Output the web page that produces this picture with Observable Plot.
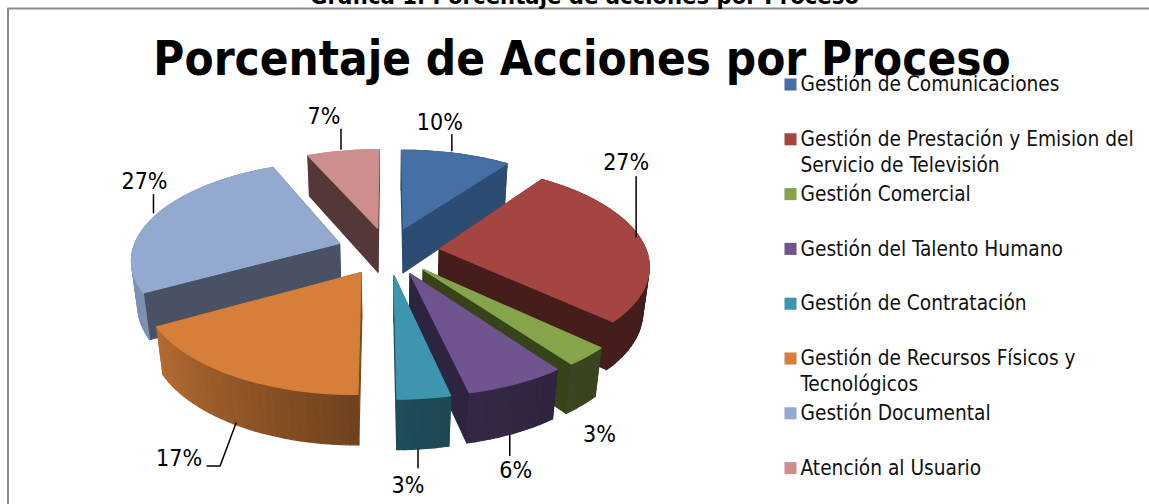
<!DOCTYPE html>
<html>
<head>
<meta charset="utf-8">
<script src="https://cdn.jsdelivr.net/npm/d3@7"></script>
<script src="https://cdn.jsdelivr.net/npm/@observablehq/plot@0.6"></script>
<style>
html,body{margin:0;padding:0;background:#fff;overflow:hidden}
svg{display:block}
</style>
</head>
<body>
<div id="chart"></div>
<script>
const categories = ["Gestión de Comunicaciones","Gestión de Prestación y Emision del Servicio de Televisión","Gestión Comercial","Gestión del Talento Humano","Gestión de Contratación","Gestión de Recursos Físicos y Tecnológicos","Gestión Documental","Atención al Usuario"];
const legendLines = [["Gestión de Comunicaciones"],["Gestión de Prestación y Emision del","Servicio de Televisión"],["Gestión Comercial"],["Gestión del Talento Humano"],["Gestión de Contratación"],["Gestión de Recursos Físicos y","Tecnológicos"],["Gestión Documental"],["Atención al Usuario"]];
const values = [10, 27, 3, 6.49, 3.4, 17.01, 26.5, 6.6];
const topColors = ["#4470A6","#A54542","#86A44A","#6F5490","#3D96AE","#D67F3A","#93A9CF","#CE8E8E"];
const wallColors = ["#2D4C73","#451D1A","#374419","#2D2440","#1F4C5C","#7A4A20","#495265","#543839"];
const drawOrder = [7,0,6,1,2,3,4,5];
const title = "Porcentaje de Acciones por Proceso";
const caption = "Gráfica 1. Porcentaje de acciones por Proceso";
// leader polylines and label offsets, relative to the slice's rim anchor
const leaderOffsets = [[[-4,-3],[-4,-19]],[[-5,-3],[-5,-63]],[],[[-3,1],[-3,22]],[[-5,1],[-5,19]],[[-1,-2],[-17,41],[-30,41]],[[-3,-2],[-3,-20]],[[-2,-2],[-2,-22]]];
const labelOffsets = [[-16,-31],[-15,-77],[18,29],[3,37],[-15,37],[-58,34],[-12,-33],[-19,-35]];

// pie projection (ground plane to screen, with perspective)
const CX=387.5, CY=250.5, AX=207, BY=96.5, DEPTH=46, K=0.15, M=0.025, EXPLODE=0.25;
const project = (X,Y,low) => { const w = 1+K*Y+(low?M:0);
  return {x: CX+AX*X/w, y: CY-(BY*Y-(low?DEPTH:0))/w}; };
const total = d3.sum(values);
const rad = d => d*Math.PI/180;
const cum = d3.cumsum(values);
const slices = values.map((v,i)=>{
  const a0 = (i?cum[i-1]:0)/total*360, a1 = cum[i]/total*360, mid=(a0+a1)/2;
  const ox = EXPLODE*Math.sin(rad(mid)), oy = EXPLODE*Math.cos(rad(mid));
  const rim = a => [ox+Math.sin(rad(a)), oy+Math.cos(rad(a))];
  return {i,a0,a1,mid,ox,oy,rim};
});
const shade = d3.scaleLinear([0,140,176,240,300,360],[.42,.42,.5,.85,.88,.88]);
const darken = (c,f)=>{const r=d3.rgb(c);return d3.rgb(r.r*f,r.g*f,r.b*f).formatHex();};

const points=[]; let faceId=0;
const addFace=(ground,low,color)=>{ const id=faceId++;
  ground.forEach((g,j)=>{const p=project(g[0],g[1],low?low[j]:false); points.push({x:p.x,y:p.y,face:id,color});});
};
for (const i of drawOrder){
  const s=slices[i], walls=[];
  const p0=s.rim(s.a0), p1=s.rim(s.a1), ap=[s.ox,s.oy];
  walls.push({d:(p0[1]+ap[1])/2,g:[ap,p0,p0,ap],c:wallColors[i]});
  walls.push({d:(p1[1]+ap[1])/2,g:[ap,p1,p1,ap],c:wallColors[i]});
  const n=Math.max(2,Math.ceil((s.a1-s.a0)/2));
  d3.range(n).forEach(j=>{
    const a=s.a0+(s.a1-s.a0)*j/n, b=s.a0+(s.a1-s.a0)*(j+1)/n;
    const q0=s.rim(a), q1=s.rim(b);
    walls.push({d:(q0[1]+q1[1])/2,g:[q0,q1,q1,q0],c:darken(topColors[i],shade((a+b)/2))});
  });
  walls.sort((u,v)=>v.d-u.d).forEach(w=>addFace(w.g,[false,false,true,true],w.c));
  const top=[ap,...d3.range(n+1).map(j=>s.rim(s.a0+(s.a1-s.a0)*j/n))];
  addFace(top,null,topColors[i]);
}

// anchors on the rim, lower rim for the front slices
const anchors = slices.map(s=>{const r=s.rim(s.mid);return project(r[0],r[1],r[1]<-0.5);});
const leaders = leaderOffsets.flatMap((l,i)=>l.map(o=>({x:anchors[i].x+o[0],y:anchors[i].y+o[1],z:i})));
const labels = values.map((v,i)=>({x:anchors[i].x+labelOffsets[i][0],y:anchors[i].y+labelOffsets[i][1],t:Math.round(v)+"%"}));

const LEGEND_X=784, LEGEND_Y=84, LEGEND_STEP=54.8, LINE=26;
const swatches = categories.map((c,i)=>({x:LEGEND_X+6,y:LEGEND_Y+i*LEGEND_STEP,color:topColors[i]}));
const legendText = legendLines.flatMap((ls,i)=>ls.map((t,j)=>({t,x:LEGEND_X+16,y:LEGEND_Y+(i)*LEGEND_STEP+j*LINE})));

const FONT="'DejaVu Sans Condensed','DejaVu Sans'";
const chart = Plot.plot({
  width:1149,height:504,margin:0,
  x:{type:"identity",axis:null},y:{type:"identity",axis:null},
  color:{type:"identity"},
  style:{background:"#fff"},
  marks:[
    Plot.line([{x:1149,y:8},{x:7.5,y:8},{x:7.5,y:504}],{x:"x",y:"y",stroke:"#8c8c8c",strokeWidth:2}),
    Plot.text([caption],{text:d=>d,x:584,y:-4.4,fontFamily:FONT,fontWeight:"bold",fontSize:23.6,fill:"#000"}),
    Plot.line(points,{x:"x",y:"y",z:"face",fill:"color",stroke:"color",strokeWidth:1.2,curve:"linear-closed"}),
    Plot.line(leaders,{x:"x",y:"y",z:"z",stroke:"#000",strokeWidth:1.5}),
    Plot.text(labels,{x:"x",y:"y",text:"t",fontFamily:FONT,fontSize:23,fill:"#000"}),
    Plot.text([title],{text:d=>d,x:581.5,y:59,fontFamily:FONT,fontWeight:"bold",fontSize:47.2,fill:"#000"}),
    Plot.dot(swatches,{x:"x",y:"y",symbol:"square",r:6.8,fill:"color"}),
    Plot.text(legendText,{x:"x",y:"y",text:"t",textAnchor:"start",fontFamily:FONT,fontSize:20.7,fill:"#111"})
  ]
});
document.getElementById("chart").append(chart);
</script>
</body>
</html>
